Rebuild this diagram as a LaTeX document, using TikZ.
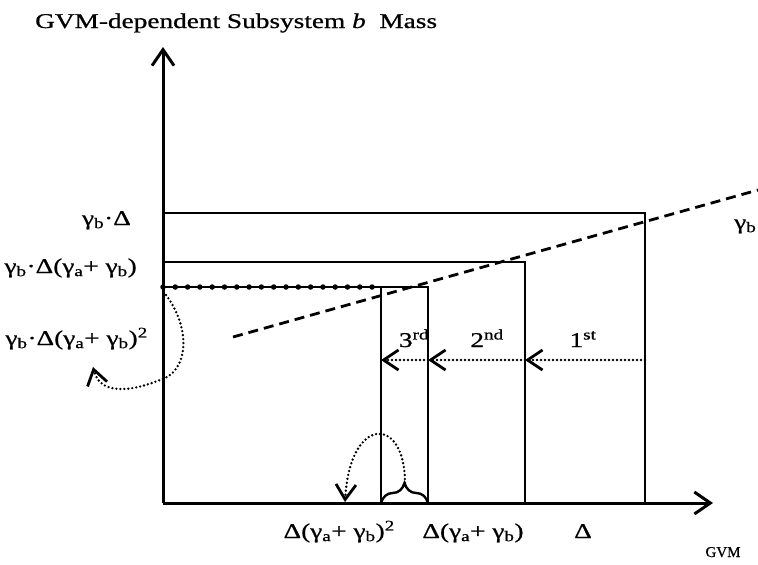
\documentclass[tikz,border=0pt]{standalone}
\usepackage{fontspec}
\setmainfont{Liberation Serif}[FakeStretch=1.3, FakeBold=0.8]
\newfontfamily\gvmfont{Liberation Serif}[FakeBold=0.8]
\usetikzlibrary{arrows.meta, decorations.pathreplacing}

\newcommand{\gma}{γ\textsubscript{a}}
\newcommand{\gmb}{γ\textsubscript{b}}

\begin{document}
\begin{tikzpicture}[x=1pt, y=-1pt,
  lbl/.style={font=\fontsize{21}{25}\selectfont, inner sep=0pt},
  axis/.style={line width=3pt, -{Straight Barb[length=16pt, width=22pt, line width=3pt]}},
  box/.style={line width=2.4pt},
  trail/.style={line width=2.6pt, line cap=round, dash pattern=on 0pt off 4pt,
    -{Straight Barb[length=15pt, width=20pt, line width=2.8pt]}}]
\useasboundingbox (0,0) rectangle (758,565);

% Axes
\coordinate (O) at (163,503);
\coordinate (ytop) at (163,47);
\coordinate (xend) at (713,503);
\draw[axis] (O) -- (ytop);
\draw[axis] (O) -- (xend);
\node[lbl, anchor=base west] (title) at (35,28) {GVM-dependent Subsystem \textit{b}~ Mass};
\node[inner sep=0pt, anchor=base, font=\gvmfont\fontsize{15}{18}\selectfont] (gvm) at (723,557) {GVM};

% Boxes
\coordinate (b1) at (163,213); \coordinate (c1) at (645,213); \coordinate (d1) at (645,503);
\coordinate (b2) at (163,262); \coordinate (c2) at (525,262); \coordinate (d2) at (525,503);
\coordinate (b3) at (163,287); \coordinate (c3) at (428,287); \coordinate (d3) at (428,503);
\coordinate (e3) at (381,287); \coordinate (f3) at (381,503);
\draw[box] (b1) -- (c1) -- (d1);
\draw[box] (b2) -- (c2) -- (d2);
\draw[box] (b3) -- (c3) -- (d3);
\draw[box] (e3) -- (f3);

% Beads on the third top
\coordinate (bead) at (374,287);
\draw[line width=5.5pt, line cap=round, dash pattern=on 0pt off 12.3pt] (b3) -- (bead);

% Slope line
\coordinate (g0) at (233,337);
\coordinate (g1) at (758,190);
\draw[line width=2.8pt, dash pattern=on 10pt off 6pt] (g0) -- (g1);
\node[lbl, anchor=base west] (gam) at (734,229) {\gmb};

% Height labels
\node[lbl, anchor=base east] (h1) at (131,225) {\gmb·Δ};
\node[lbl, anchor=base east] (h2) at (137,273) {\gmb·Δ(\gma+ \gmb)};
\node[lbl, anchor=base east] (h3) at (148,345) {\gmb·Δ(\gma+ \gmb)\textsuperscript{2}};

% Width labels
\node[lbl, anchor=base] (w1) at (583,538) {Δ};
\node[lbl, anchor=base] (w2) at (473,538) {Δ(\gma+ \gmb)};
\node[lbl, anchor=base east] (w3) at (395,538) {Δ(\gma+ \gmb)\textsuperscript{2}};

% Steps
\coordinate (p1) at (645,360); \coordinate (p2) at (525,360);
\coordinate (p3) at (428,360); \coordinate (p4) at (381,360);
\draw[trail] (p1) -- (p2);
\draw[trail] (p2) -- (p3);
\draw[trail] (p3) -- (p4);
\node[lbl, anchor=base] (s1) at (583,347) {1\textsuperscript{st}};
\node[lbl, anchor=base] (s2) at (487,347) {2\textsuperscript{nd}};
\node[lbl, anchor=base] (s3) at (414,347) {3\textsuperscript{rd}};

% Brace and hops
\draw[box, decorate, decoration={brace, amplitude=20pt}] (f3) -- (d3);
\coordinate (brtip) at (405,483);
\draw[trail] (brtip) .. controls (405,415) and (350,415) .. (345,502);
\coordinate (hop) at (166,295);
\draw[trail] (hop) .. controls (192,330) and (188,372) .. (160,380)
  .. controls (130,392) and (100,395) .. (93,367);
\end{tikzpicture}
\end{document}
